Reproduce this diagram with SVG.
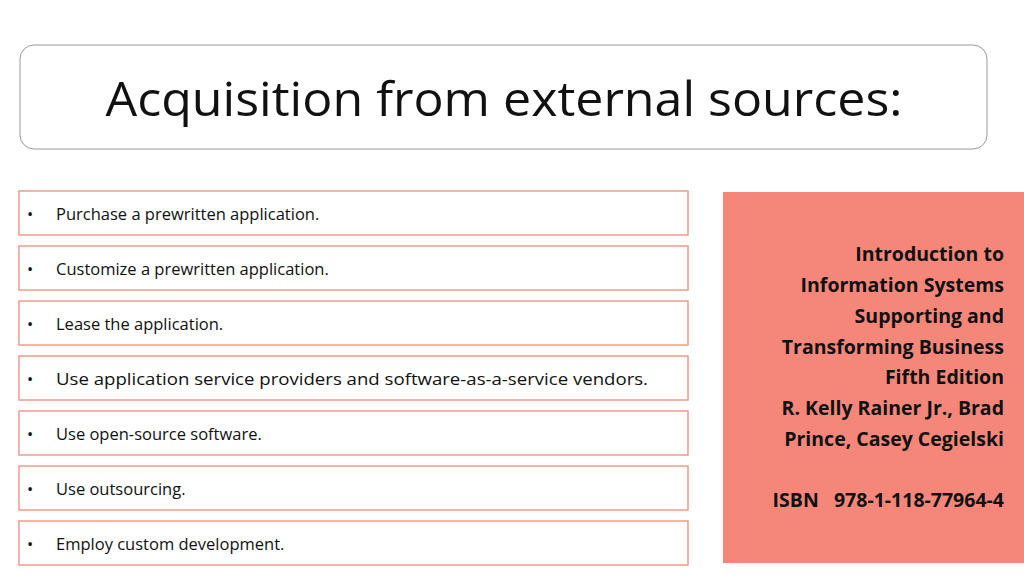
<svg xmlns="http://www.w3.org/2000/svg" width="1024" height="576" viewBox="0 0 1024 576">
<style>
.b{fill:#fff;stroke:#EE9A8C;stroke-width:1.5}
.t{font-family:"Open Sans","Liberation Sans",sans-serif;font-size:16.5px;fill:#111}
.r{font-family:"Open Sans","Liberation Sans",sans-serif;font-size:19.5px;font-weight:bold;fill:#111;text-anchor:end}
</style>
<rect width="1024" height="576" fill="#fff"/>
<g id="title"><rect x="20" y="45" width="967" height="104" rx="14" fill="#fff" stroke="#9a9a9a" stroke-width="1"/>
<text x="504" y="116" text-anchor="middle" font-family="'Open Sans','Liberation Sans',sans-serif" font-size="47" fill="#111" textLength="797" lengthAdjust="spacingAndGlyphs">Acquisition from external sources:</text></g>
<g id="n1"><rect class="b" x="19" y="191" width="669" height="44"/><text class="t" x="27" y="220">•</text><text class="t" x="56" y="220">Purchase a prewritten application.</text></g>
<g id="n2"><rect class="b" x="19" y="246" width="669" height="44"/><text class="t" x="27" y="275">•</text><text class="t" x="56" y="275">Customize a prewritten application.</text></g>
<g id="n3"><rect class="b" x="19" y="301" width="669" height="44"/><text class="t" x="27" y="330">•</text><text class="t" x="56" y="330">Lease the application.</text></g>
<g id="n4"><rect class="b" x="19" y="356" width="669" height="44"/><text class="t" x="27" y="385">•</text><text class="t" x="56" y="385" textLength="592" lengthAdjust="spacingAndGlyphs">Use application service providers and software-as-a-service vendors.</text></g>
<g id="n5"><rect class="b" x="19" y="411" width="669" height="44"/><text class="t" x="27" y="440">•</text><text class="t" x="56" y="440">Use open-source software.</text></g>
<g id="n6"><rect class="b" x="19" y="466" width="669" height="44"/><text class="t" x="27" y="495">•</text><text class="t" x="56" y="495">Use outsourcing.</text></g>
<g id="n7"><rect class="b" x="19" y="521" width="669" height="44"/><text class="t" x="27" y="550">•</text><text class="t" x="56" y="550">Employ custom development.</text></g>
<g id="book"><rect x="723" y="192" width="301" height="371" fill="#F4877A"/>
<text class="r" x="1004" y="261">Introduction to</text>
<text class="r" x="1004" y="292">Information Systems</text>
<text class="r" x="1004" y="323">Supporting and</text>
<text class="r" x="1004" y="354">Transforming Business</text>
<text class="r" x="1004" y="384">Fifth Edition</text>
<text class="r" x="1004" y="415">R. Kelly Rainer Jr., Brad</text>
<text class="r" x="1004" y="446">Prince, Casey Cegielski</text>
<text class="r" x="1004" y="507" xml:space="preserve">ISBN   978-1-118-77964-4</text></g>
<g id="connectors"/>
</svg>
